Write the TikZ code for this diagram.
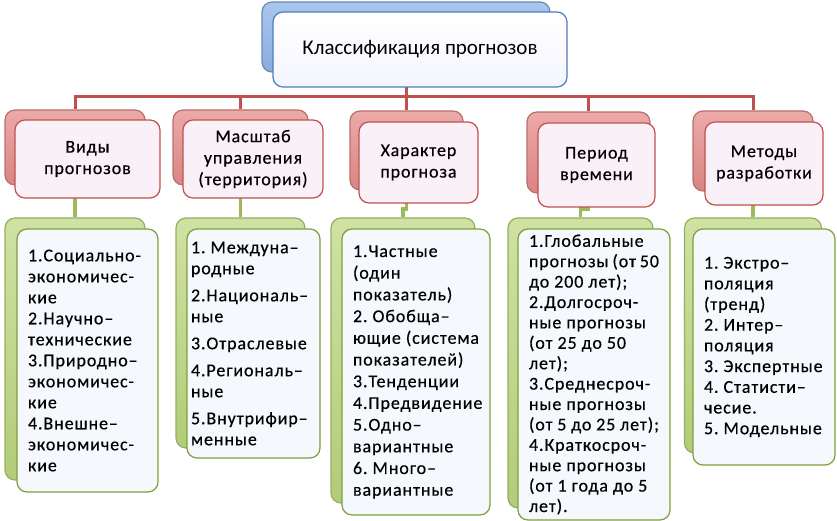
\documentclass[tikz,border=0pt]{standalone}
\usepackage{fontspec}
\setmainfont{Carlito}
\newfontfamily\boxfont[LetterSpace=5,FakeBold=0.4]{Carlito}
\usetikzlibrary{backgrounds}

\definecolor{blueedge}{HTML}{4A7EBB}
\definecolor{blueshadetop}{HTML}{A9C6EE}
\definecolor{blueshadebot}{HTML}{88ADDF}
\definecolor{redline}{HTML}{C0504D}
\definecolor{redshadetop}{HTML}{EBAAA9}
\definecolor{redshadebot}{HTML}{D98482}
\definecolor{redfill}{HTML}{FAF1F8}
\definecolor{greenline}{HTML}{9BBB59}
\definecolor{greenedge}{HTML}{7F9F3A}
\definecolor{greenshadetop}{HTML}{CFE2A3}
\definecolor{greenshadebot}{HTML}{B2CC78}
\definecolor{greenfill}{HTML}{F5F8FC}

\tikzset{
  boxbase/.style={rounded corners=10pt, line width=1.2pt, inner sep=0pt},
  topback/.style={boxbase, draw=blueshadebot!80!black, top color=blueshadetop, bottom color=blueshadebot},
  topfront/.style={boxbase, draw=blueedge, top color=white, bottom color=blue!4,
    font=\fontsize{21}{25}\selectfont},
  catback/.style={boxbase, draw=redshadebot!85!black, top color=redshadetop, bottom color=redshadebot},
  catfront/.style={boxbase, draw=redline, fill=redfill, align=center,
    font=\boxfont\fontsize{18}{21.5}\selectfont},
  listback/.style={boxbase, draw=greenshadebot!85!black, top color=greenshadetop, bottom color=greenshadebot},
  listfront/.style={boxbase, draw=greenedge, fill=greenfill, inner xsep=11pt, align=flush left,
    font=\boxfont\fontsize{18}{21}\selectfont},
  redlink/.style={draw=redline, line width=3pt},
  greenlink/.style={draw=greenline, line width=3.5pt}
}

\begin{document}
\begin{tikzpicture}[x=1pt,y=-1pt]
  \useasboundingbox (0,0) rectangle (837,521);

  % top
  \node[topback, minimum width=288pt, minimum height=70pt] (clsb) at (406,37) {};
  \node[topfront, minimum width=294pt, minimum height=75pt] (cls) at (420,49.5) {Классификация прогнозов};

  % categories
  \node[catback, minimum width=140pt, minimum height=75pt] (cb1) at (75,147.5) {};
  \node[catback, minimum width=135pt, minimum height=75pt] (cb2) at (240.5,147.5) {};
  \node[catback, minimum width=113pt, minimum height=79pt] (cb3) at (406.5,150.5) {};
  \node[catback, minimum width=123pt, minimum height=81pt] (cb4) at (588.5,152.5) {};
  \node[catback, minimum width=120pt, minimum height=80pt] (cb5) at (753,151) {};

  \node[catfront, minimum width=145pt, minimum height=78pt] (c1) at (87.5,159) {Виды\\прогнозов};
  \node[catfront, minimum width=140pt, minimum height=78pt] (c2) at (253,159) {Масштаб\\управления\\(территория)};
  \node[catfront, minimum width=119pt, minimum height=81pt] (c3) at (418.5,162.5) {Характер\\прогноза};
  \node[catfront, minimum width=117pt, minimum height=84pt] (c4) at (596.5,165) {Период\\времени};
  \node[catfront, minimum width=118pt, minimum height=83pt] (c5) at (764,163.5) {Методы\\разработки};

  % lists
  \node[listback, minimum width=140pt, minimum height=262pt] (lb1) at (75,349) {};
  \node[listback, minimum width=129pt, minimum height=230pt] (lb2) at (240.5,333) {};
  \node[listback, minimum width=144pt, minimum height=285pt] (lb3) at (403,360.5) {};
  \node[listback, minimum width=145pt, minimum height=290pt] (lb4) at (580.5,363) {};
  \node[listback, minimum width=137pt, minimum height=235pt] (lb5) at (753,335.5) {};

  \node[listfront, minimum width=141pt, minimum height=263pt, text width=119pt] (l1) at (87.5,360.5)
    {1.Социально-\\экономичес-\\кие\\2.Научно–\\технические\\3.Природно–\\экономичес-\\кие\\4.Внешне–\\экономичес-\\кие};
  \node[listfront, minimum width=133pt, minimum height=229pt, inner xsep=4pt, text width=125pt] (l2) at (253.5,343.5)
    {1.~Междуна–\\родные\\[6pt]2.Националь–\\ные\\[6pt]3.Отраслевые\\[6pt]4.Региональ–\\ные\\[6pt]5.Внутрифир–\\менные};
  \node[listfront, minimum width=148pt, minimum height=286pt, text width=126pt,
    font=\boxfont\fontsize{18}{21.7}\selectfont] (l3) at (416,372)
    {1.Частные\\(один\\показатель)\\2.~Обобща–\\ющие~(система\\показателей)\\3.Тенденции\\4.Предвидение\\5.Одно–\\вариантные\\6.~Много–\\вариантные};
  \node[listfront, minimum width=152pt, minimum height=291pt, text width=130pt,
    font=\boxfont\fontsize{18}{20.4}\selectfont] (l4) at (594,374.5)
    {1.Глобальные\\прогнозы~(от~50\\до~200~лет);\\2.Долгосроч-\\ные~прогнозы\\(от~25~до~50\\лет);\\3.Среднесроч-\\ные~прогнозы\\(от~5~до~25~лет);\\4.Краткосроч-\\ные~прогнозы\\(от~1~года~до~5\\лет).};
  \node[listfront, minimum width=142pt, minimum height=236pt, text width=120pt,
    font=\boxfont\fontsize{18}{20.7}\selectfont] (l5) at (764,347)
    {1.~Экстро–\\поляция\\(тренд)\\2.~Интер–\\поляция\\3.~Экспертные\\4.~Статисти–\\чесие.\\5.~Модельные};

  % links
  \begin{scope}[on background layer]
    \coordinate (bus) at (0,97);
    \coordinate (jog) at (0,209);
    \foreach \i in {1,...,5} {
      \draw[redlink] (clsb.south) -- (clsb.south |- bus) -| (cb\i.north);
      \draw[greenlink] (cb\i.south) -- (cb\i.south |- jog) -| (lb\i.north);
    }
  \end{scope}
\end{tikzpicture}
\end{document}
